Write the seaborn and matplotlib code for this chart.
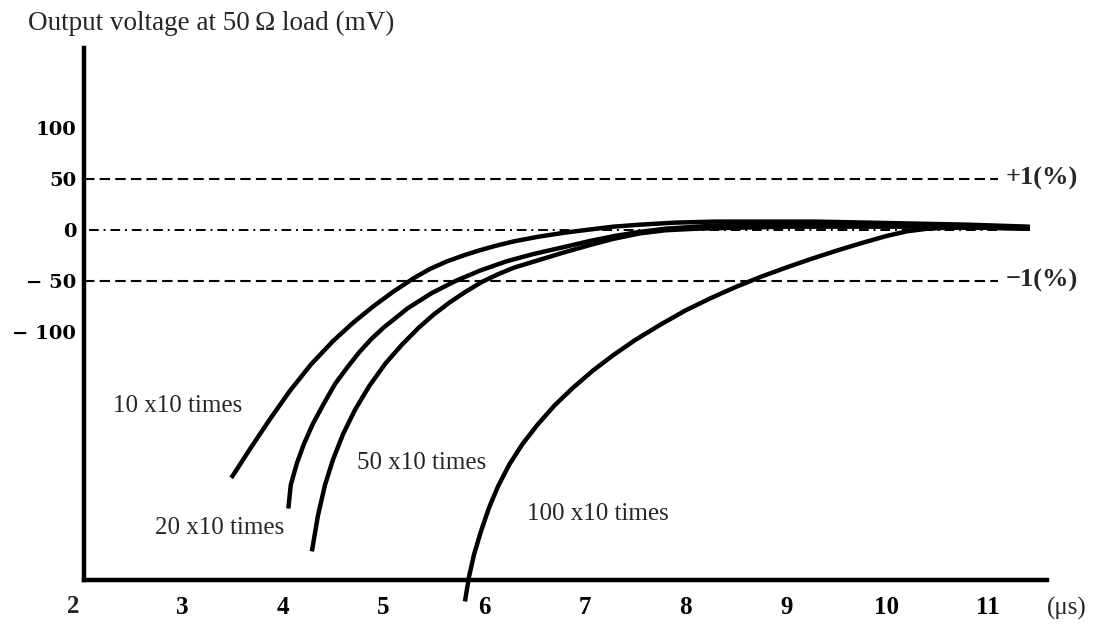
import pandas as pd
import seaborn as sns
import matplotlib
matplotlib.use("Agg")
import matplotlib.pyplot as plt
import matplotlib.transforms as mtransforms

# time (us) vs output voltage (mV)
t_10 = [3.49, 3.68, 3.87, 4.07, 4.28, 4.50, 4.70, 4.90, 5.10, 5.30, 5.46, 5.63, 5.80, 5.96,
        6.12, 6.29, 6.54, 6.79, 7.03, 7.28, 7.55, 7.9, 8.3, 8.8, 9.3, 9.8, 10.3, 10.8, 11.42]
v_10 = [-243, -214, -186, -158, -132, -109, -91, -75, -60.5, -47.5, -38.5, -31, -25, -20,
        -15.6, -11.5, -6.8, -3, 0, 3, 5, 7, 8, 8, 8, 7, 6, 5, 3]

t_20 = [4.056, 4.08, 4.14, 4.21, 4.30, 4.41, 4.52, 4.64, 4.76, 4.88, 5.00, 5.24, 5.48, 5.72,
        5.96, 6.22, 6.48, 6.79, 7.05, 7.30, 7.55, 7.8, 8.1, 8.5, 9.0, 9.5, 10.0, 10.5, 11.0, 11.42]
v_20 = [-273, -250, -229, -210, -190, -170, -151, -135, -120, -107, -96, -77, -62, -50,
        -40, -31, -24, -17, -11, -6, -2, 1, 3, 5, 5, 5, 5, 4, 3, 2]

t_50 = [4.29, 4.35, 4.42, 4.50, 4.60, 4.72, 4.86, 5.02, 5.18, 5.35, 5.50, 5.66, 5.82, 5.98,
        6.14, 6.30, 6.55, 6.80, 7.05, 7.28, 7.55, 7.8, 8.1, 8.5, 9.0, 9.5, 10.0, 10.5, 11.0, 11.42]
v_50 = [-315, -280, -250, -225, -200, -176, -153, -131, -113, -96, -83, -71, -60.5, -51,
        -43.5, -37, -29.5, -22, -15, -9, -3.5, -0.5, 1, 2, 3, 3, 3, 3, 2, 1]

t_100 = [5.81, 5.85, 5.90, 5.97, 6.05, 6.14, 6.25, 6.38, 6.53, 6.70, 6.88, 7.08, 7.28, 7.50,
         7.75, 8.00, 8.25, 8.50, 8.75, 9.00, 9.25, 9.50, 9.75, 10.00, 10.2, 10.4, 10.6, 11.0, 11.42]
v_100 = [-364, -340, -318, -295, -272, -251, -230, -210, -191, -172, -155, -138, -123, -108,
         -93, -79, -67, -56, -46, -37, -28.5, -20.5, -13, -6, -1.5, 1, 2, 2, 1]

series_names = ["10 x10 times", "20 x10 times", "50 x10 times", "100 x10 times"]
x_ticks = [3, 4, 5, 6, 7, 8, 9, 10, 11]
y_ticks = [100, 50, 0, -50, -100]
y_tick_labels = ["100", "50", "0", "\u2212 50", "\u2212 100"]
limit_levels = [50, -50]
limit_labels = ["+1(%)", "\u22121(%)"]
guide_end = 11.1


def build_frame():
    parts = []
    for name, t, v in zip(series_names, [t_10, t_20, t_50, t_100], [v_10, v_20, v_50, v_100]):
        parts.append(pd.DataFrame({"time": t, "voltage": v, "series": name}))
    return pd.concat(parts, ignore_index=True)


df = build_frame()

sns.set_style("white")
plt.rcParams["font.family"] = ["Liberation Serif", "DejaVu Serif"]

fig = plt.figure(figsize=(10.95, 6.32), dpi=100)
ax = fig.add_axes([84 / 1095, 52 / 632, 963 / 1095, 532 / 632])

# tolerance guides and zero line
ax.hlines(limit_levels, 2.03, guide_end, colors="black", linewidth=1.5,
          linestyles=[(0, (5, 2.5))])
ax.hlines([0], 2.08, guide_end, colors="black", linewidth=1.4,
          linestyles=[(0, (5, 2.5, 1, 2.5))])

sns.lineplot(data=df, x="time", y="voltage", units="series", estimator=None, sort=False,
             color="black", linewidth=3.2, ax=ax, legend=False)
for line in ax.lines:
    line.set_clip_on(False)
    line.set_solid_capstyle("butt")
    line.set_solid_joinstyle("round")

ax.set_xlim(2.027, 11.59)
ax.set_ylim(-343, 178)
sns.despine(ax=ax)
for side in ["left", "bottom"]:
    ax.spines[side].set_linewidth(3.2)
    ax.spines[side].set_color("black")

ax.set_xticks(x_ticks)
ax.set_xticklabels([str(v) for v in x_ticks], fontsize=18, fontweight="bold")
ax.set_yticks(y_ticks)
ax.set_yticklabels(y_tick_labels, fontsize=14, fontweight="bold", family="DejaVu Serif")
ax.tick_params(axis="x", direction="in", length=9, width=1.5, pad=11.5, colors="black")
ax.tick_params(axis="y", direction="in", length=13, width=1.5, pad=5.5, colors="black")
for tick, val in zip(ax.yaxis.get_major_ticks(), y_ticks):
    if abs(val) < 100:
        tick.tick1line.set_visible(False)
ax.set_xlabel("")
ax.set_ylabel("")

trans = mtransforms.blended_transform_factory(ax.transData, ax.transAxes)
# origin label sits left of the axis
ax.text(1.92, -0.05, "2", transform=trans, ha="center", va="center", fontsize=18,
        fontweight="bold", clip_on=False)
ax.text(11.79, -0.053, "(\u03bcs)", transform=trans, ha="center", va="center", fontsize=18)

# curve labels
label_t = [2.955, 3.37, 5.38, 7.13]
label_v = [-173, -292, -228, -278]
for name, lt, lv in zip(series_names, label_t, label_v):
    ax.text(lt, lv, name, ha="center", va="center", fontsize=18)

for lvl, txt in zip(limit_levels, limit_labels):
    ax.text(11.18, lvl, txt, ha="left", va="center", fontsize=19, fontweight="bold")

fig.text(28 / 1095, 1 - 23 / 632, "Output voltage at 50\u2009\u03a9 load (mV)",
         ha="left", va="center", fontsize=19.5)

fig.savefig("out.png", dpi=100)
